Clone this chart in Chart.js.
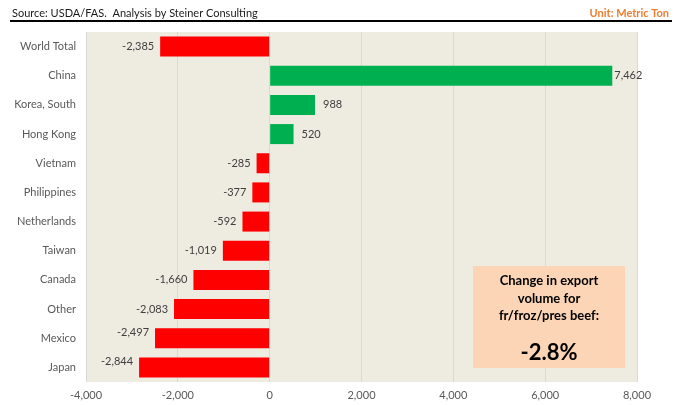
<!DOCTYPE html>
<html><head><meta charset="utf-8">
<script src="https://cdn.jsdelivr.net/npm/chart.js@4/dist/chart.umd.min.js"></script>
<style>html,body{margin:0;padding:0;background:#fff}#wrap{width:681px;height:405px}</style>
</head><body><div id="wrap"><canvas id="c" width="681" height="405"></canvas></div>
<script>
const categories = ["World Total","China","Korea, South","Hong Kong","Vietnam","Philippines","Netherlands","Taiwan","Canada","Other","Mexico","Japan"];
const changeValues = [-2385, 7462, 988, 520, -285, -377, -592, -1019, -1660, -2083, -2497, -2844];
const xTicks = [-4000, -2000, 0, 2000, 4000, 6000, 8000];
const sourceText = "Source: USDA/FAS.  Analysis by Steiner Consulting";
const unitText = "Unit: Metric Ton";
const boxLines = ["Change in export", "volume for", "fr/froz/pres beef:"];
const boxValue = "-2.8%";

const FONT = "Lato, 'Open Sans', sans-serif";
const fmt = v => v.toLocaleString('en-US');

const bgPlugin = {
  id: 'bg',
  beforeDraw(chart) {
    const {ctx, chartArea: a} = chart;
    ctx.save();
    ctx.fillStyle = '#EEEBE1';
    ctx.fillRect(a.left, a.top, a.right - a.left, a.bottom - a.top);
    ctx.restore();
  }
};

const labelPlugin = {
  id: 'labels',
  afterDatasetsDraw(chart) {
    const ctx = chart.ctx;
    const meta = chart.getDatasetMeta(0);
    ctx.save();
    ctx.font = "11px " + FONT;
    ctx.fillStyle = '#404040';
    ctx.textBaseline = 'middle';
    meta.data.forEach((bar, i) => {
      const v = changeValues[i];
      let dy = 0;
      if (i >= 10) dy = -6;
      if (v < 0) {
        ctx.textAlign = 'right';
        ctx.fillText(fmt(v), bar.x - 6, bar.y + dy);
      } else {
        ctx.textAlign = 'left';
        ctx.fillText(fmt(v), bar.x + (i === 1 ? 2 : 8), bar.y + dy);
      }
    });
    ctx.restore();
  }
};

const headerPlugin = {
  id: 'header',
  afterDraw(chart) {
    const ctx = chart.ctx;
    ctx.save();
    ctx.textBaseline = 'alphabetic';
    ctx.font = "11px " + FONT;
    ctx.fillStyle = '#1a1a1a';
    ctx.textAlign = 'left';
    ctx.fillText(sourceText, 12, 17);
    ctx.font = "bold 11px " + FONT;
    ctx.fillStyle = '#ED7D31';
    ctx.textAlign = 'right';
    ctx.fillText(unitText, 669, 17);
    ctx.fillStyle = '#000';
    ctx.fillRect(10, 20, 662, 2);

    // annotation box
    const bx = 473, by = 266, bw = 152, bh = 102;
    ctx.fillStyle = '#FBD5B5';
    ctx.fillRect(bx, by, bw, bh);
    ctx.fillStyle = '#000';
    ctx.textAlign = 'center';
    ctx.textBaseline = 'middle';
    ctx.font = "bold 13px " + FONT;
    boxLines.forEach((t, i) => ctx.fillText(t, bx + bw / 2, 281 + i * 17.5));
    ctx.font = "bold 22px " + FONT;
    ctx.fillText(boxValue, bx + bw / 2, 353);
    ctx.restore();
  }
};

new Chart(document.getElementById('c'), {
  type: 'bar',
  data: {
    labels: categories,
    datasets: [{
      data: changeValues,
      backgroundColor: changeValues.map(v => v < 0 ? '#FF0000' : '#00B050'),
      borderWidth: 0,
      categoryPercentage: 0.78,
      barPercentage: 0.88
    }]
  },
  options: {
    indexAxis: 'y',
    responsive: false,
    animation: false,
    devicePixelRatio: 1,
    layout: { padding: { left: 0, right: 44, top: 32, bottom: 0 } },
    plugins: { legend: { display: false }, tooltip: { enabled: false } },
    scales: {
      x: {
        min: -4000, max: 8000,
        afterBuildTicks(scale) { scale.ticks = xTicks.map(v => ({ value: v })); },
        afterFit(scale) { scale.height = 23; },
        grid: { color: '#D9D9D9', lineWidth: 1, drawTicks: false },
        border: { display: false },
        ticks: {
          padding: 7,
          color: '#595959',
          font: { family: FONT, size: 11 },
          callback: v => fmt(v)
        }
      },
      y: {
        afterFit(scale) { scale.width = 86; },
        grid: { display: false, drawTicks: false },
        border: { display: false },
        ticks: {
          padding: 10,
          color: '#595959',
          font: { family: FONT, size: 11 }
        }
      }
    }
  },
  plugins: [bgPlugin, labelPlugin, headerPlugin]
});
</script></body></html>
